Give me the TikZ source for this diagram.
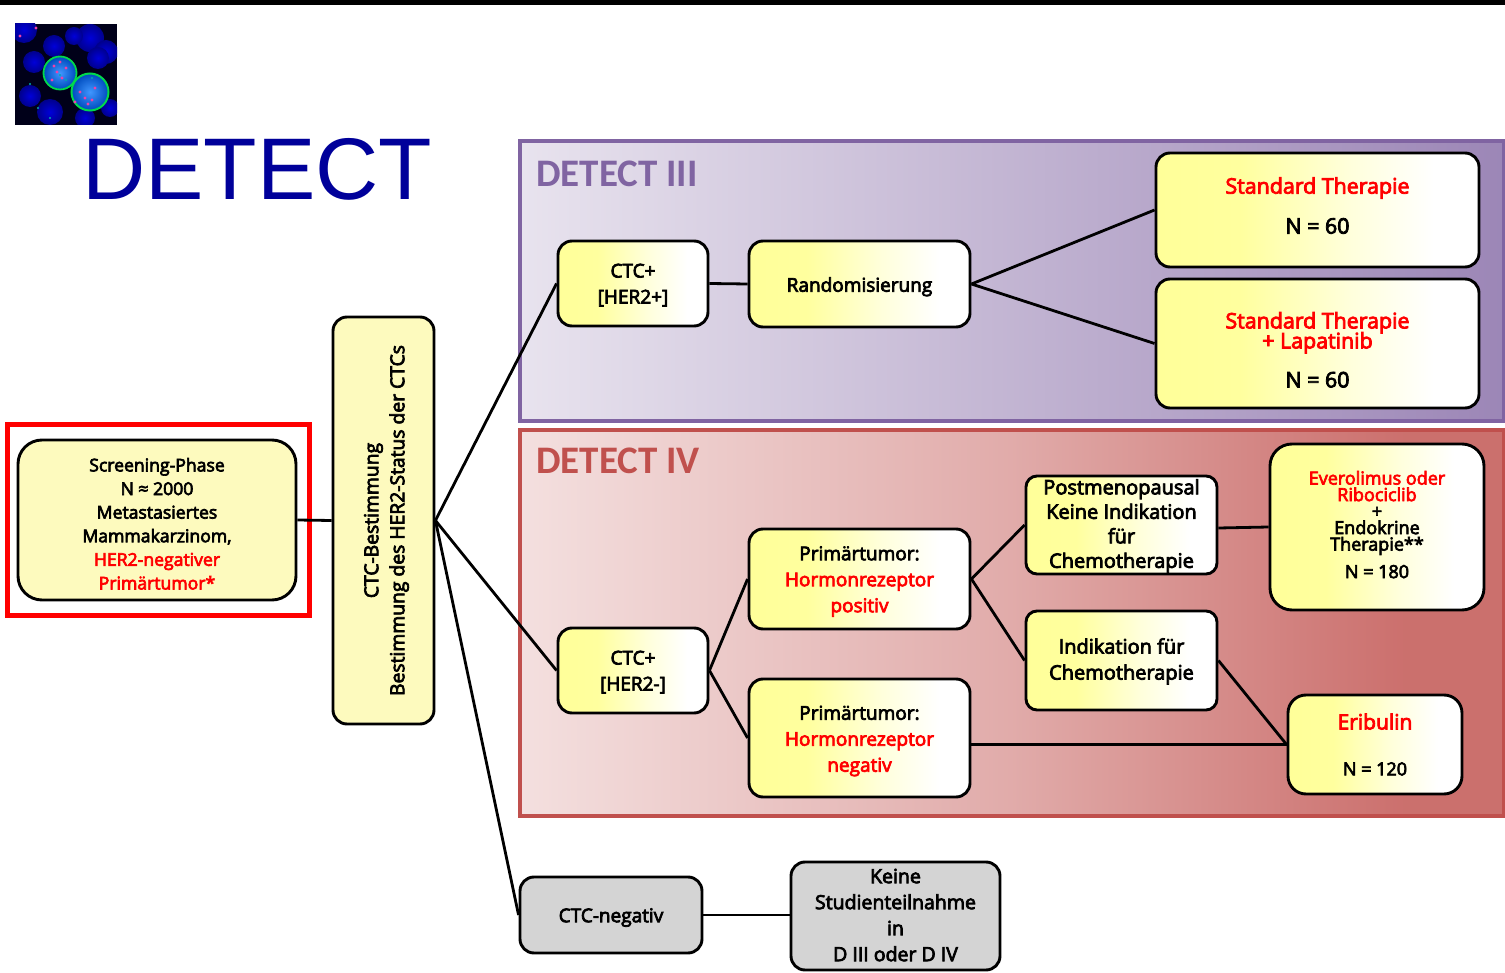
\documentclass[tikz,border=0pt]{standalone}
\usepackage{fontspec}
\setmainfont{Open Sans}[RawFeature={embolden=3.8}]
\newfontfamily\calib{Carlito}[BoldFont={Carlito Bold}]
\newfontfamily\arialf{Liberation Sans}
\usetikzlibrary{calc}
\normallineskiplimit=-50pt
\lineskiplimit=-50pt
\definecolor{redt}{HTML}{FF0000}
\definecolor{logo}{HTML}{00009A}
\definecolor{purp}{HTML}{8064A2}
\definecolor{redb}{HTML}{C0504D}
\definecolor{pale}{HTML}{FDFABE}
\pgfdeclarehorizontalshading{boxgrad}{100bp}{color(0bp)=(yellow!40!white); color(25bp)=(yellow!40!white); color(38bp)=(yellow!38!white); color(55bp)=(yellow!14!white); color(68bp)=(white); color(100bp)=(white)}
\pgfdeclarehorizontalshading{purpgrad}{100bp}{color(0bp)=(purp!18!white); color(25bp)=(purp!18!white); color(50bp)=(purp!48!white); color(75bp)=(purp!78!white); color(100bp)=(purp!78!white)}
\pgfdeclarehorizontalshading{redgrad}{100bp}{color(0bp)=(redb!18!white); color(25bp)=(redb!18!white); color(50bp)=(redb!48!white); color(70bp)=(redb!82!white); color(75bp)=(redb!82!white); color(100bp)=(redb!82!white)}
\tikzset{
  x=1pt,y=-1pt,
  boxbase/.style={draw=black,line width=2.9pt,rounded corners=14pt,align=center,inner sep=0pt,text=black,font=\fontsize{19}{26}\selectfont},
  box/.style={boxbase,shading=boxgrad},
  plainbox/.style={boxbase,fill=pale},
  greybox/.style={boxbase,fill=black!17},
  panel/.style={inner sep=0pt,line width=3.6pt},
  link/.style={line width=2.8pt,draw=black},
  ttl/.style={font=\calib\fontsize{39}{39}\selectfont\bfseries,anchor=west,inner sep=0pt},
}
\newcommand\bx[7][]{%
  \pgfmathsetmacro\cxv{(#4+#6)/2}\pgfmathsetmacro\cyv{(#5+#7)/2}%
  \pgfmathsetmacro\wv{#6-#4}\pgfmathsetmacro\hv{#7-#5}%
  \node[#1,minimum width=\wv pt,minimum height=\hv pt] (#2) at (\cxv,\cyv) {#3};}
\newcommand\rd[1]{\textcolor{redt}{#1}}
\newcommand\dn[1]{\rule{0pt}{#1pt}}
\newcommand\up[1]{\rule[-#1pt]{0pt}{#1pt}}
\begin{document}
\begin{tikzpicture}
\useasboundingbox (0,0) rectangle (1505,973);
\fill[black] (0,0) rectangle (1505,5);
% photo
\begin{scope}
\clip (15,24) rectangle (117,125);
\fill[black!90!blue] (15,24) rectangle (117,125);
\foreach \a/\b/\r in {24/30/13,54/46/11,34/62/11,90/38/14,106/52/12,30/96/11,50/112/13,85/118/10,110/108/9,98/58/11,74/36/9}
  \shade[inner color=blue!85!black,outer color=blue!55!black] (\a,\b) circle (\r);
\shade[inner color=cyan!45!blue!75!white,outer color=blue!60!cyan!75!black] (60,73) circle (16);
\shade[inner color=cyan!45!blue!75!white,outer color=blue!60!cyan!75!black] (90,92) circle (18);
\draw[green!65!cyan!85!black,line width=1.8pt] (60,73) circle (16.5);
\draw[green!65!cyan!85!black,line width=2pt] (90,92) circle (18.5);
\foreach \a/\b in {57/72,62/78,54/66,66/68,85/98,92/100,80/92,95/88,20/36,36/28,75/102,52/80,60/62,88/104}
  \fill[magenta!75!white] (\a,\b) circle (1.6);
\foreach \a/\b in {60/75,66/80,50/118,38/108,92/78,30/84}
  \fill[cyan!60!green] (\a,\b) circle (1.1);
\end{scope}
\node[anchor=west,inner sep=0pt,text=logo,font=\arialf\fontsize{87.5}{88}\selectfont] (logotxt) at (82,169) {DETECT};
% panels
\node[panel,draw=purp,shading=purpgrad,minimum width=984pt,minimum height=280pt] (p3) at (1012,281) {};
\node[panel,draw=redb,shading=redgrad,minimum width=984pt,minimum height=386pt] (p4) at (1012,623) {};
\node[ttl,text=purp] (t3) at (536,174) {DETECT III};
\node[ttl,text=redb] (t4) at (536,461) {DETECT IV};
% red frame
\node[draw=redt,line width=5pt,inner sep=0pt,minimum width=302pt,minimum height=190pt] (frame) at (158.5,520) {};
% boxes
\bx[plainbox,rounded corners=24pt,font=\fontsize{17.6}{23.6}\selectfont]{screen}{\dn{21}Screening-Phase\\N ≈ 2000\\Metastasiertes\\Mammakarzinom,\\\rd{HER2-negativer}\\\rd{Primärtumor*}}{18}{440}{296}{600}
\bx[plainbox]{ctc}{}{333}{317}{434}{724}
\node[rotate=90,inner sep=0pt,align=center,font=\fontsize{19.3}{26}\selectfont] (ctctext) at ($(ctc.center)+(3,0)$) {CTC-Bestimmung\\Bestimmung des HER2-Status der CTCs};
\bx[box]{hp}{\dn{17}CTC+\\{[}HER2+{]}}{558}{241}{708}{326}
\bx[box]{rand}{\dn{20}Randomisierung}{749}{241}{970}{327}
\bx[box,font=\fontsize{21.4}{20}\selectfont]{st}{\rd{Standard Therapie}\\[20pt]N = 60\up{9}}{1156}{153}{1479}{267}
\bx[box,font=\fontsize{21.4}{20}\selectfont]{stl}{\dn{29}\rd{Standard Therapie}\\\rd{+ Lapatinib}\\[19pt]N = 60}{1156}{279}{1479}{408}
\bx[box]{hn}{\dn{17}CTC+\\{[}HER2-{]}}{558}{628}{708}{713}
\bx[box]{pos}{\dn{19}Primärtumor:\\\rd{Hormonrezeptor}\\\rd{positiv}}{749}{529}{970}{629}
\bx[box]{neg}{\dn{20}Primärtumor:\\\rd{Hormonrezeptor}\\\rd{negativ}}{749}{679}{970}{797}
\bx[box,rounded corners=11pt,font=\fontsize{20}{24.5}\selectfont]{post}{\dn{17}Postmenopausal\\Keine Indikation\\für\\Chemotherapie}{1026}{476}{1217}{574}
\bx[box,rounded corners=11pt,font=\fontsize{20}{26}\selectfont]{ind}{\dn{17}Indikation für\\Chemotherapie}{1026}{611}{1217}{710}
\bx[box,rounded corners=22pt,font=\fontsize{18}{16.5}\selectfont]{eve}{\rd{Everolimus oder}\\\rd{Ribociclib}\\+\\Endokrine\\Therapie**\\[11pt]N = 180\up{5}}{1270}{444}{1484}{610}
\bx[box,rounded corners=18pt,font=\fontsize{21}{20}\selectfont]{eri}{\rd{Eribulin}\\[26pt]{\fontsize{18}{17}\selectfont N = 120}}{1288}{695}{1462}{794}
\bx[greybox]{cneg}{\dn{19}CTC-negativ}{520}{877}{702}{953}
\bx[greybox,font=\fontsize{19.5}{26}\selectfont]{none}{Keine\\Studienteilnahme\\in\\D III oder D IV\up{2}}{791}{862}{1000}{970}
% connectors
\draw[link] (screen.east) -- (ctc.west);
\draw[link] (ctc.east) -- (hp.west);
\draw[link] (ctc.east) -- (hn.west);
\draw[link] (ctc.east) -- (cneg.west);
\draw[link] (hp.east) -- (rand.west);
\draw[link] (rand.east) -- (st.west);
\draw[link] (rand.east) -- (stl.west);
\draw[link] (hn.east) -- (pos.west);
\draw[link] (hn.east) -- (neg.west);
\draw[link] (pos.east) -- (post.west);
\draw[link] (pos.east) -- (ind.west);
\draw[link] ($(post.east)+(0,3)$) -- (eve.west);
\draw[link] (ind.east) -- (eri.west);
\draw[link] (neg.east |- eri.west) -- (eri.west);
\draw[link] (cneg.east) -- (cneg.east -| none.west);
\end{tikzpicture}
\end{document}
